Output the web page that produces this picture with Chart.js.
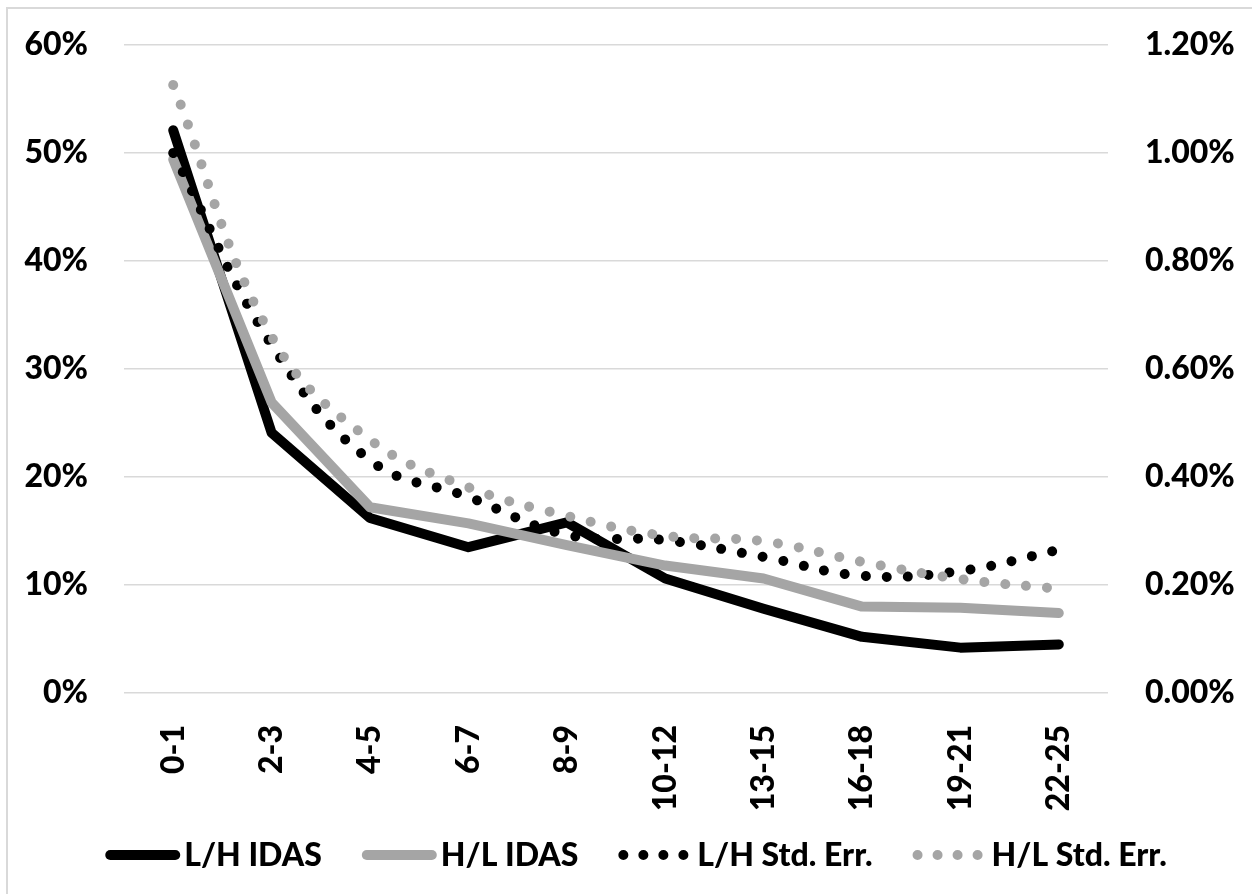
<!DOCTYPE html>
<html><head><meta charset="utf-8">
<script src="https://cdn.jsdelivr.net/npm/chart.js@4.4.0/dist/chart.umd.min.js"></script>
<style>html,body{margin:0;padding:0;background:#fff;overflow:hidden}#wrap{position:relative;width:1252px;height:894px}</style>
</head><body><div id="wrap"><canvas id="c" width="1252" height="894"></canvas></div>
<script>
const categories = ['0-1','2-3','4-5','6-7','8-9','10-12','13-15','16-18','19-21','22-25'];
const lhIdas   = [52.1, 24.1, 16.2, 13.5, 15.8, 10.6, 7.8, 5.2, 4.2, 4.5];
const hlIdas   = [49.4, 26.9, 17.2, 15.7, 13.7, 11.8, 10.6, 8.0, 7.9, 7.4];
const lhStdErr = [1.00, 0.645, 0.431, 0.363, 0.293, 0.283, 0.252, 0.217, 0.226, 0.265];
const hlStdErr = [1.126, 0.66, 0.469, 0.381, 0.328, 0.291, 0.281, 0.243, 0.211, 0.193];
const seriesNames = ['L/H IDAS','H/L IDAS','L/H Std. Err.','H/L Std. Err.'];
const leftAxis = {min: 0, max: 60, step: 10};
const rightAxis = {min: 0, max: 1.2, step: 0.2};

const BLACK = '#000000', GRAY = '#a5a5a5';
const FONT = 'Lato';

const framePlugin = {
  id: 'frame',
  beforeDraw(chart) {
    const ctx = chart.ctx;
    ctx.save();
    ctx.fillStyle = '#fff';
    ctx.fillRect(0, 0, chart.width, chart.height);
    ctx.strokeStyle = '#d9d9d9';
    ctx.lineWidth = 2;
    ctx.strokeRect(7, 8, 1400, 1000);
    ctx.restore();
  }
};

const legendPlugin = {
  id: 'customLegend',
  afterDraw(chart) {
    const ctx = chart.ctx;
    ctx.save();
    ctx.font = '900 32px ' + FONT;
    ctx.textBaseline = 'middle';
    const sample = 75, textGap = 4, itemGap = 40;
    const items = chart.data.datasets.map(ds => ({
      text: ds.label, color: ds.borderColor, dotted: !!(ds.borderDash && ds.borderDash.length)
    }));
    let total = 0;
    items.forEach((it, i) => {
      it.w = ctx.measureText(it.text).width;
      total += sample + textGap + it.w + (i < items.length - 1 ? itemGap : 0);
    });
    let x = 636 - total / 2;
    const y = 855;
    items.forEach(it => {
      ctx.strokeStyle = it.color;
      ctx.lineWidth = 10;
      ctx.lineCap = 'round';
      ctx.beginPath();
      ctx.setLineDash(it.dotted ? [0.01, 20] : []);
      ctx.moveTo(x + 5, y); ctx.lineTo(x + 70, y);
      ctx.stroke();
      ctx.setLineDash([]);
      ctx.fillStyle = '#000';
      ctx.fillText(it.text, x + sample + textGap, y + 1);
      x += sample + textGap + it.w + itemGap;
    });
    ctx.restore();
  }
};

new Chart(document.getElementById('c'), {
  type: 'line',
  data: {
    labels: categories,
    datasets: [
      {label: seriesNames[0], data: lhIdas, yAxisID: 'y', borderColor: BLACK, backgroundColor: BLACK,
       borderWidth: 10, pointRadius: 0, tension: 0, borderCapStyle: 'round', borderJoinStyle: 'round', order: 4},
      {label: seriesNames[1], data: hlIdas, yAxisID: 'y', borderColor: GRAY, backgroundColor: GRAY,
       borderWidth: 10, pointRadius: 0, tension: 0, borderCapStyle: 'round', borderJoinStyle: 'round', order: 3},
      {label: seriesNames[2], data: lhStdErr, yAxisID: 'y1', borderColor: BLACK, backgroundColor: BLACK,
       borderWidth: 10, pointRadius: 0, tension: 0.4, borderDash: [0.01, 21], borderCapStyle: 'round', order: 2},
      {label: seriesNames[3], data: hlStdErr, yAxisID: 'y1', borderColor: GRAY, backgroundColor: GRAY,
       borderWidth: 10, pointRadius: 0, tension: 0.4, borderDash: [0.01, 21], borderCapStyle: 'round', order: 1}
    ]
  },
  options: {
    responsive: false,
    animation: false,
    devicePixelRatio: 1,
    layout: {padding: {top: 45, left: 0, right: 0, bottom: 0}},
    plugins: {legend: {display: false}, tooltip: {enabled: false}},
    scales: {
      x: {
        offset: true,
        grid: {display: false, offset: true},
        border: {display: false},
        ticks: {autoSkip: false, maxRotation: 90, minRotation: 90, padding: 24,
                color: '#000', font: {family: FONT, size: 32, weight: '900'}},
        afterFit(s) { s.height = 201; }
      },
      y: {
        position: 'left', min: leftAxis.min, max: leftAxis.max,
        grid: {color: '#d9d9d9', lineWidth: 1.5, drawTicks: true, tickLength: 36, tickColor: 'rgba(0,0,0,0)'},
        border: {display: false},
        ticks: {stepSize: leftAxis.step, padding: 0, color: '#000',
                font: {family: FONT, size: 32, weight: '900'},
                callback: v => Math.round(v) + '%'},
        afterFit(s) { s.width = 124; }
      },
      y1: {
        position: 'right', min: rightAxis.min, max: rightAxis.max,
        grid: {display: true, drawOnChartArea: false, drawTicks: true, tickLength: 37,
               color: 'rgba(0,0,0,0)', tickColor: 'rgba(0,0,0,0)'},
        border: {display: false},
        ticks: {stepSize: rightAxis.step, padding: 0, color: '#000',
                font: {family: FONT, size: 32, weight: '900'},
                callback: v => v.toFixed(2) + '%'},
        afterFit(s) { s.width = 144; }
      }
    }
  },
  plugins: [framePlugin, legendPlugin]
});
</script>
</body></html>
